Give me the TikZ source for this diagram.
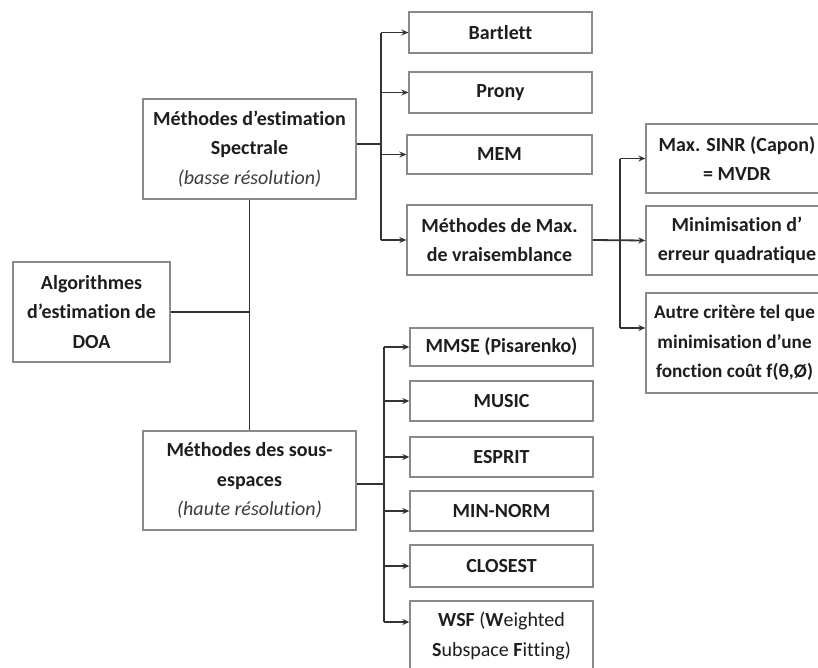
\documentclass[tikz,border=0pt]{standalone}
\usepackage{fontspec}
\setmainfont{Carlito}[Ligatures=NoCommon]
\usetikzlibrary{arrows.meta}
\definecolor{boxline}{HTML}{8A8A8A}
\definecolor{wire}{HTML}{333333}
\definecolor{ink}{HTML}{1E1E1E}
\definecolor{note}{HTML}{3C3C3C}
\begin{document}
\begin{tikzpicture}[x=1pt,y=-1pt,
  box/.style={draw=boxline,line width=1.3pt,fill=white,align=center,
    inner sep=0pt,text=ink,font=\fontsize{20}{29.5}\selectfont\bfseries},
  link/.style={draw=wire,line width=1.8pt},
  tip/.style={link,-{Stealth[length=7pt,width=6pt]}}]
\useasboundingbox (0,0) rectangle (818,667);
\clip (0,0) rectangle (818,667);
\fill[white] (0,0) rectangle (818,667);

% root and the two families
\node[box,minimum width=157pt,minimum height=100pt] (alg) at (91.5,312)
  {Algorithmes\\d’estimation de\\DOA};
\node[box,minimum width=213pt,minimum height=100pt] (spec) at (249.5,149)
  {Méthodes d’estimation\\Spectrale\\{\color{note}\mdseries\itshape (basse résolution)}};
\node[box,minimum width=213pt,minimum height=99pt] (sous) at (249.5,480.5)
  {Méthodes des sous-\\espaces\\{\color{note}\mdseries\itshape (haute résolution)}};

% spectral methods
\node[box,minimum width=183pt,minimum height=41pt] (bart) at (500.5,32.5) {Bartlett};
\node[box,minimum width=183pt,minimum height=41pt] (prony) at (500.5,92.5) {Prony};
\node[box,minimum width=185pt,minimum height=39pt] (mem) at (499.5,154.5) {MEM};
\node[box,minimum width=185pt,minimum height=70pt] (ml) at (499.5,240)
  {Méthodes de Max.\\de vraisemblance};

% maximum likelihood criteria
\node[box,minimum width=182pt,minimum height=69pt] (capon) at (737,158.5)
  {Max. SINR (Capon)\\= MVDR};
\node[box,minimum width=182pt,minimum height=69pt] (minq) at (737,240.5)
  {Minimisation d’\\erreur quadratique};
\node[box,minimum width=182pt,minimum height=100pt,
  font=\fontsize{19.2}{29.5}\selectfont\bfseries] (autre) at (737,343) {};
\node[align=center,inner sep=0pt,text=ink,font=\fontsize{19.2}{29.5}\selectfont\bfseries]
  (autretext) at (734.5,343)
  {Autre critère tel que\\minimisation d’une\\fonction coût f(θ,Ø)};

% subspace methods
\node[box,minimum width=183pt,minimum height=38pt] (mmse) at (501.5,347) {MMSE (Pisarenko)};
\node[box,minimum width=183pt,minimum height=40pt] (music) at (501.5,401) {MUSIC};
\node[box,minimum width=183pt,minimum height=40pt] (esprit) at (501.5,457) {ESPRIT};
\node[box,minimum width=183pt,minimum height=40pt] (minnorm) at (501.5,511) {MIN-NORM};
\node[box,minimum width=183pt,minimum height=42pt] (closest) at (501.5,566) {CLOSEST};
\node[box,minimum width=183pt,minimum height=70pt] (wsf) at (501.5,636)
  {WSF {\mdseries(}W{\mdseries eighted}\\S{\mdseries ubspace} F{\mdseries itting)}};

% root to the two families
\coordinate (trunk) at (spec.south |- alg.east);
\draw[link] (alg.east) -- (trunk);
\draw[link] (spec.south) -- (sous.north);

% spectral bus
\coordinate (sb) at (381,144);
\draw[link] ([yshift=5pt]spec.east) -- (sb);
\draw[link] (sb |- bart.west) -- (sb |- ml.west);
\draw[tip] (sb |- bart.west) -- (bart.west);
\draw[tip] (sb |- prony.west) -- (prony.west);
\draw[tip] (sb |- mem.west) -- (mem.west);
\draw[tip] (sb |- ml.west) -- (ml.west);

% maximum likelihood bus
\coordinate (mb) at (620,240);
\coordinate (autrein) at ([yshift=15pt]autre.west);
\draw[link] (mb |- capon.west) -- (mb |- autrein);
\draw[tip] (ml.east) -- (minq.west);
\draw[tip] (mb |- capon.west) -- (capon.west);
\draw[tip] (mb |- autrein) -- (autrein);

% subspace bus
\coordinate (ub) at (384,484);
\coordinate (wsfin) at ([yshift=14pt]wsf.west);
\draw[link] ([yshift=-3.5pt]sous.east) -- (ub);
\draw[link] (ub |- mmse.west) -- (ub |- wsfin);
\draw[tip] (ub |- mmse.west) -- (mmse.west);
\draw[tip] (ub |- music.west) -- (music.west);
\draw[tip] (ub |- esprit.west) -- (esprit.west);
\draw[tip] (ub |- minnorm.west) -- (minnorm.west);
\draw[tip] (ub |- closest.west) -- (closest.west);
\draw[tip] (ub |- wsfin) -- (wsfin);
\end{tikzpicture}
\end{document}
